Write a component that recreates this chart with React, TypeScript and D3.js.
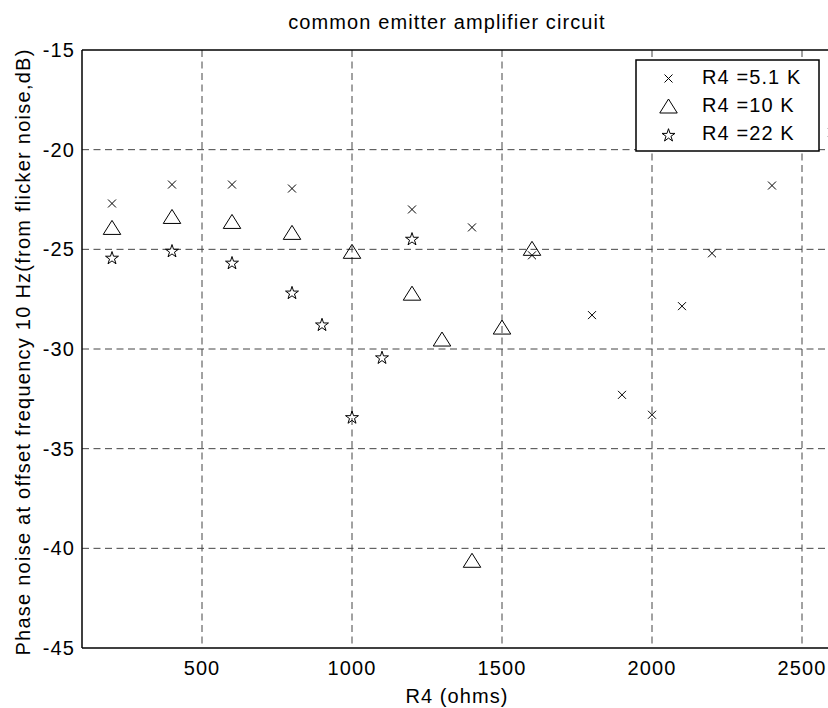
import React from "react";
import * as d3 from "d3";

// ---- data ----
const title = "common emitter amplifier circuit";
const xLabel = "R4 (ohms)";
const yLabel = "Phase noise at offset frequency 10 Hz(from flicker noise,dB)";

const xTicks = [500, 1000, 1500, 2000, 2500];
const yTicks = [-45, -40, -35, -30, -25, -20, -15];
const xDomain = [100, 2600];
const yDomain = [-45, -15];

const legendLabels = ["R4 =5.1 K", "R4 =10 K", "R4 =22 K"];

const r51X = [200, 400, 600, 800, 1200, 1400, 1600, 1800, 1900, 2000, 2100, 2200, 2400, 2600];
const r51Y = [-22.7, -21.75, -21.75, -21.95, -23.0, -23.9, -25.3, -28.3, -32.3, -33.3, -27.85, -25.2, -21.8, -19.15];

const r10X = [200, 400, 600, 800, 1000, 1200, 1300, 1400, 1500, 1600];
const r10Y = [-23.9, -23.35, -23.6, -24.15, -25.1, -27.2, -29.5, -40.6, -28.9, -24.95];

const r22X = [200, 400, 600, 800, 900, 1000, 1100, 1200];
const r22Y = [-25.45, -25.1, -25.7, -27.2, -28.8, -33.45, -30.45, -24.5];

// ---- layout ----
const W = 828;
const H = 708;
const left = 82;
const right = 832;
const top = 50;
const bottom = 648;
const FONT = "'Liberation Sans', Arial, Helvetica, sans-serif";
const FS = 20;
const LS = 1.1;

const crossPath = (s: number) => `M${-s},${-s}L${s},${s}M${-s},${s}L${s},${-s}`;
const triPath = (w: number, h: number) => `M0,${-h / 2}L${w / 2},${h / 2}L${-w / 2},${h / 2}Z`;
const starPath = (r: number) => {
  const ri = r * 0.382;
  const pts: string[] = [];
  for (let i = 0; i < 10; i++) {
    const rr = i % 2 === 0 ? r : ri;
    const a = -Math.PI / 2 + (i * Math.PI) / 5;
    pts.push(`${(rr * Math.cos(a)).toFixed(2)},${(rr * Math.sin(a)).toFixed(2)}`);
  }
  return "M" + pts.join("L") + "Z";
};

const CROSS = crossPath(4);
const TRI = triPath(17.5, 14);
const STAR = starPath(6.8);

export default function App() {
  const x = d3.scaleLinear().domain(xDomain).range([left, right]);
  const y = d3.scaleLinear().domain(yDomain).range([bottom, top]);

  const series = [
    { xs: r51X, ys: r51Y, d: CROSS },
    { xs: r10X, ys: r10Y, d: TRI },
    { xs: r22X, ys: r22Y, d: STAR },
  ];

  const legendX = 636;
  const legendY = 60;
  const legendW = 183;
  const legendH = 91;
  const legendMarkers = [CROSS, TRI, STAR];
  const legendRowY = [78.5, 106, 135.5];
  const legendBase = [83.5, 111.5, 139.5];

  return (
    <svg
      width={W}
      height={H}
      viewBox={`0 0 ${W} ${H}`}
      style={{ position: "absolute", left: 0, top: 0, background: "#fff", display: "block" }}
    >
      <rect x={0} y={0} width={W} height={H} fill="#fff" />
      {/* grid */}
      <g stroke="#444" strokeWidth={1} strokeDasharray="7,4.5" fill="none">
        {xTicks.map((t) => (
          <line key={"gx" + t} x1={x(t)} x2={x(t)} y1={top} y2={bottom} />
        ))}
        {yTicks
          .filter((t) => t !== yDomain[0] && t !== yDomain[1])
          .map((t) => (
            <line key={"gy" + t} x1={left} x2={right} y1={y(t)} y2={y(t)} />
          ))}
      </g>
      {/* axes */}
      <g stroke="#000" strokeWidth={1.5} fill="none">
        <line x1={left} x2={right} y1={bottom} y2={bottom} />
        <line x1={left} x2={right} y1={top} y2={top} />
        <line x1={left} x2={left} y1={top} y2={bottom} />
        <line x1={right} x2={right} y1={top} y2={bottom} />
      </g>
      {/* tick labels */}
      <g fontFamily={FONT} fontSize={FS} fill="#000" letterSpacing={LS}>
        {xTicks.map((t) => (
          <text key={"tx" + t} x={x(t)} y={675} textAnchor="middle">
            {t}
          </text>
        ))}
        {yTicks.map((t) => (
          <text key={"ty" + t} x={75} y={y(t) + 7} textAnchor="end">
            {t}
          </text>
        ))}
      </g>
      {/* markers */}
      <g stroke="#000" strokeWidth={1} fill="none">
        {series.map((s, si) =>
          s.xs.map((xv, i) => (
            <path key={si + "-" + i} d={s.d} transform={`translate(${x(xv)},${y(s.ys[i])})`} />
          ))
        )}
      </g>
      {/* titles */}
      <text x={447} y={29} textAnchor="middle" fontFamily={FONT} fontSize={FS} letterSpacing={LS} fill="#000">
        {title}
      </text>
      <text x={(left + right) / 2} y={703} textAnchor="middle" fontFamily={FONT} fontSize={FS} letterSpacing={LS} fill="#000">
        {xLabel}
      </text>
      <text
        transform={`translate(30,${(top + bottom) / 2 + 3}) rotate(-90)`}
        textAnchor="middle"
        fontFamily={FONT}
        fontSize={FS}
        letterSpacing={1.25}
        fill="#000"
      >
        {yLabel}
      </text>
      {/* legend */}
      <rect x={legendX} y={legendY} width={legendW} height={legendH} fill="#fff" stroke="#000" strokeWidth={1.5} />
      {legendLabels.map((lab, i) => (
        <g key={"lg" + i}>
          <path d={legendMarkers[i]} transform={`translate(668.5,${legendRowY[i]})`} stroke="#000" strokeWidth={1} fill="none" />
          <text x={702} y={legendBase[i]} fontFamily={FONT} fontSize={FS} letterSpacing={LS} fill="#000">
            {lab}
          </text>
        </g>
      ))}
    </svg>
  );
}
